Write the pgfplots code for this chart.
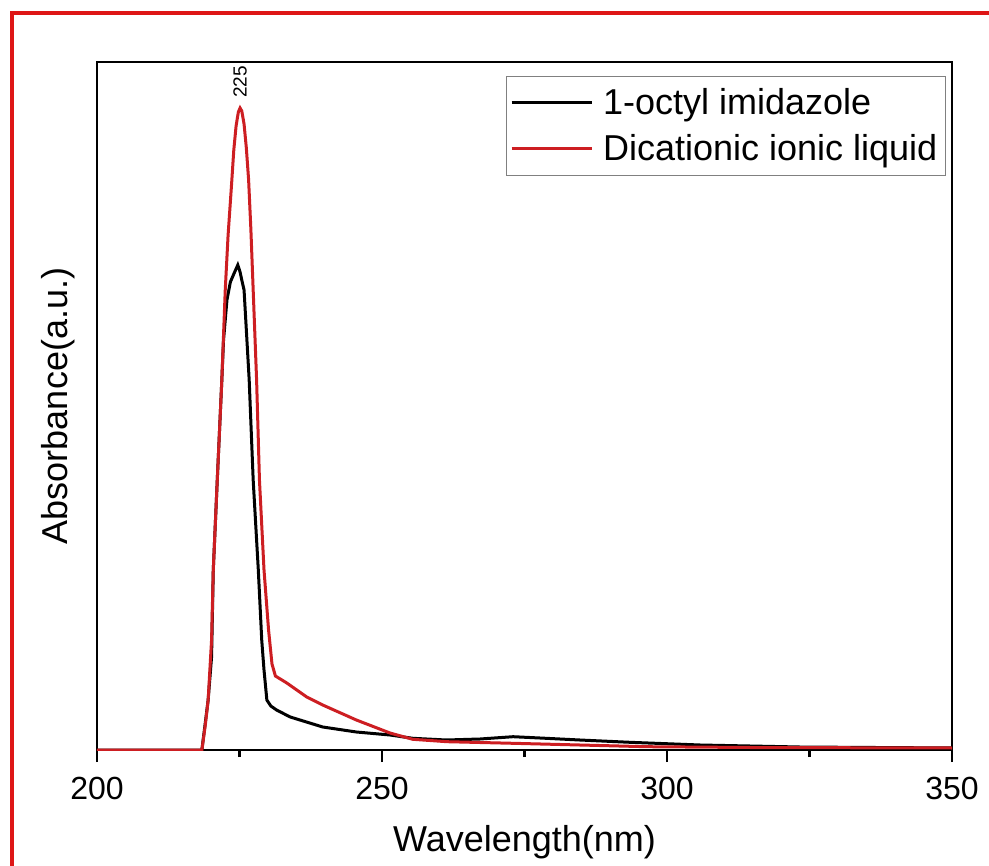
\documentclass[border=0pt]{standalone}
\usepackage{pgfplots}
\pgfplotsset{compat=1.18}
\usepackage{fontspec}
\setmainfont{Liberation Sans}
\definecolor{myred}{RGB}{205,30,34}
\definecolor{frame}{RGB}{222,22,22}
\begin{document}
\begin{tikzpicture}
\path[use as bounding box] (-48.5pt,-58pt) rectangle (446pt,375pt);
\begin{axis}[
 scale only axis, width=427.5pt, height=344pt,
 xmin=200, xmax=350, ymin=0, ymax=688,
 xtick={200,250,300,350}, minor xtick={225,275,325},
 xtick pos=bottom, ytick=\empty,
 tick align=outside,
 major tick length=6pt, minor tick length=3.5pt,
 every tick/.style={black, line width=1.2pt},
 axis line style={line width=1.2pt},
 tick label style={font=\fontsize{16}{19}\selectfont},
 xticklabel style={yshift=-4pt},
 /pgf/number format/assume math mode=true,
 xlabel={Wavelength(nm)}, ylabel={Absorbance(a.u.)},
 label style={font=\fontsize{18}{21}\selectfont},
 xlabel style={yshift=-6pt},
 ylabel style={yshift=1.5pt},
 legend style={at={(0.478,0.98)}, anchor=north west, draw=gray, line width=0.5pt,
   font=\fontsize{18}{21}\selectfont, row sep=4.5pt, inner xsep=2pt, inner ysep=4pt},
 legend cell align=left,
 legend image code/.code={\draw[#1] (0pt,0pt) -- (40pt,0pt); \path (43pt,0pt);},
]
\addplot[black, line width=1.5pt] coordinates {
(200,0) (218.4,0) (219.5,50) (220.1,93) (220.4,180) (221.1,270) (221.9,370)
(222.2,410) (222.8,450) (223.4,468) (224.0,476) (224.7,485) (225.1,478)
(225.4,470) (225.8,460) (226.7,370) (227.4,270) (228.3,180) (228.9,110)
(229.3,80) (229.8,50) (230.5,44) (231.5,40) (233.9,33) (239.6,23) (245.5,18)
(251.4,15) (255.4,11.7) (261.3,10) (267.2,11) (273,13.3) (277.7,12)
(284.7,10) (293.5,7.7) (305.8,5) (323.3,3) (350,2)
};
\addlegendentry{1-octyl imidazole}
\addplot[myred, line width=1.5pt] coordinates {
(200,0) (218.4,0) (219.0,25) (219.5,50) (219.8,80) (220.1,110) (220.4,180) (221.1,270)
(221.9,370) (222.5,460) (223.0,515) (223.6,565) (224.0,600) (224.4,624) (224.8,638)
(225.1,642) (225.4,639) (225.8,626) (226.2,602) (226.6,570) (227.0,520) (227.4,460)
(228.0,370) (228.5,270) (229.3,180) (230.1,120) (230.7,86) (231.3,74)
(233.3,67) (236.8,53) (239.6,45) (245.5,30) (251.4,17) (255.4,10.7)
(261.4,8.3) (273,6.7) (284.7,5) (296.4,3.3) (314.6,2.5) (350,2)
};
\addlegendentry{Dicationic ionic liquid}
\node[rotate=90, anchor=west, font=\fontsize{9.5}{11}\selectfont, inner sep=1pt] at (axis cs:225.1,650) {225};
\end{axis}
\draw[frame, line width=2pt] (-42.5pt,-58pt) -- (-42.5pt,368.5pt) -- (446pt,368.5pt);
\end{tikzpicture}
\end{document}
